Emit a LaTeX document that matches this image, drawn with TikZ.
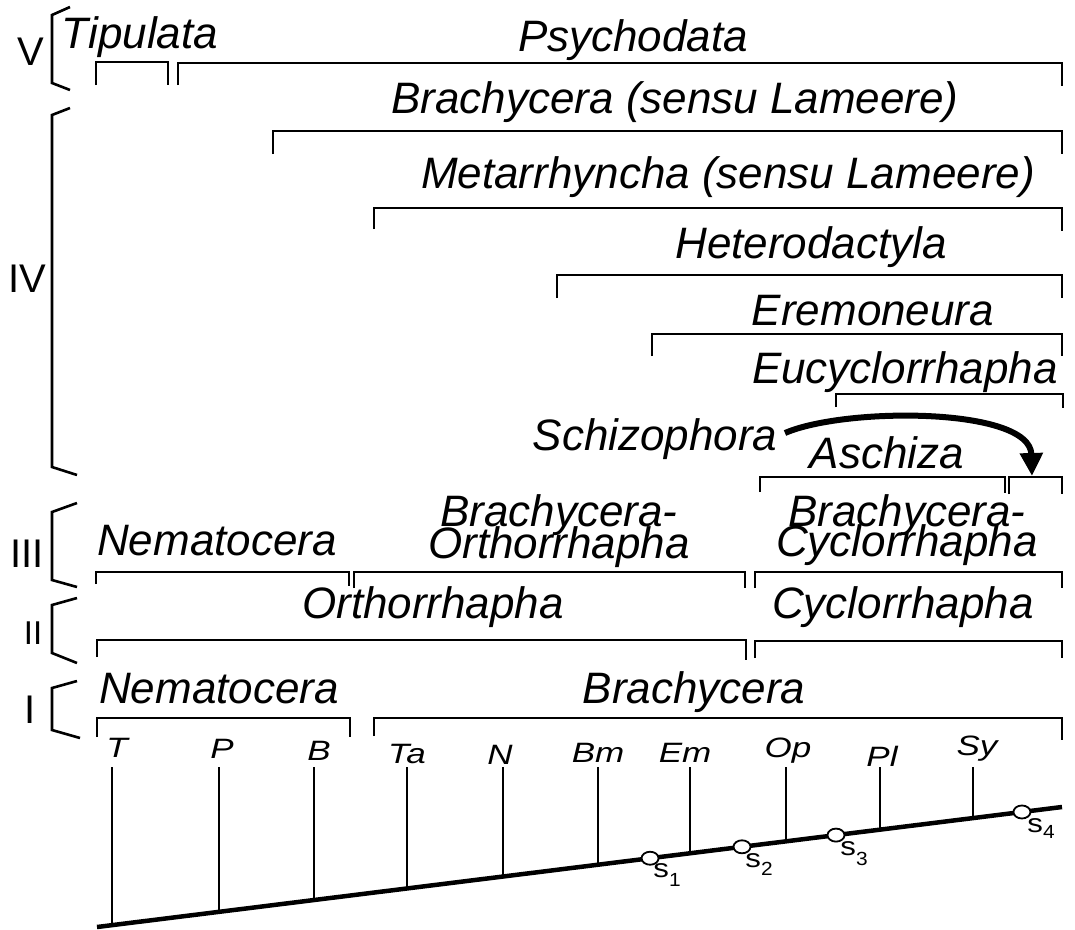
\documentclass[tikz,border=0pt]{standalone}
\usepackage{fontspec}
\setmainfont{Liberation Sans}
\usetikzlibrary{arrows.meta,shapes.geometric}
\begin{document}
\begin{tikzpicture}[x=1pt,y=-1pt,
 lab/.style={font=\fontsize{44}{46}\selectfont\itshape, anchor=base, inner sep=0pt},
 two/.style={font=\fontsize{44}{30}\selectfont\itshape, anchor=north, inner sep=0pt, align=center},
 lvl/.style={font=\fontsize{40}{44}\selectfont, anchor=base, inner sep=0pt},
 tax/.style={font=\fontsize{28}{30}\selectfont\itshape, anchor=base, inner sep=0pt, xscale=1.25},
 brk/.style={line width=2.6pt, line join=miter},
 stem/.style={line width=2.2pt},
 baseline/.style={line width=4.5pt},
 sp/.style={draw, fill=white, ellipse, line width=1.8pt, minimum width=17pt, minimum height=13pt, inner sep=0pt},
 slab/.style={anchor=base west, inner sep=0pt, font=\fontsize{26}{26}\selectfont, xscale=1.2},
 sub/.style={anchor=base west, inner sep=0pt, font=\fontsize{19}{19}\selectfont, xscale=1.1}
]
\useasboundingbox (0,0) rectangle (1075,929);

% ---- level labels and brackets
\node[lvl] (lV) at (31,65) {V};
\node[lvl] (lIV) at (27,292) {IV};
\node[lvl] (lIII) at (27,567) {III};
\node[lvl, font=\fontsize{33}{36}\selectfont] (lII) at (33,644) {II};
\node[lvl] (lI) at (30,723) {I};
\draw[brk] (70,7) -- (52,15) -- (52,83) -- (70,90);
\draw[brk] (70,108) -- (52,115) -- (52,467) -- (77,475);
\draw[brk] (77,503) -- (52,512) -- (52,580) -- (77,587);
\draw[brk] (77,598) -- (52,605) -- (52,653) -- (77,663);
\draw[brk] (77,681) -- (52,688) -- (52,730) -- (80,738);

% ---- level V
\node[lab] (tip) at (140,48) {Tipulata};
\node[lab] (psy) at (633,51) {Psychodata};
\draw[brk] (96,85) |- (168,62) -- (168,85);
\draw[brk] (178,85) |- (1062,63) -- (1062,86);

% ---- level IV
\node[lab] (bsl) at (675,113) {Brachycera (sensu Lameere)};
\draw[brk] (273,154) |- (1062,131) -- (1062,154);
\node[lab] (msl) at (728,188) {Metarrhyncha (sensu Lameere)};
\draw[brk] (374,229) |- (1062,208) -- (1062,231);
\node[lab] (het) at (811,258) {Heterodactyla};
\draw[brk] (557,298) |- (1062,275) -- (1062,298);
\node[lab] (ere) at (873,325) {Eremoneura};
\draw[brk] (652,356) |- (1062,334) -- (1062,356);
\node[lab] (euc) at (905,383) {Eucyclorrhapha};
\draw[brk] (836,407) |- (1063,394) -- (1063,408);
\node[lab] (sch) at (655,450) {Schizophora};
\node[lab] (asc) at (887,468) {Aschiza};
\draw[brk] (760,492) |- (1005,477) -- (1005,493);
\draw[brk] (1009,494) |- (1062,477) -- (1062,494);
\coordinate (arS) at (785,433);
\coordinate (arE) at (1032,476);
\draw[line width=6pt, -{Triangle[width=22pt,length=23pt]}] (arS) .. controls (845,407) and (1030,407) .. (arE);

% ---- level III
\node[lab] (nem3) at (217,555) {Nematocera};
\node[two] (bo) at (559,494) {Brachycera-\\[-10pt]Orthorrhapha};
\node[two] (bc) at (907,494) {Brachycera-\\[-12pt]Cyclorrhapha};
\draw[brk] (96,584) |- (349,572) -- (349,586);
\draw[brk] (354,588) |- (745,572) -- (745,588);
\draw[brk] (755,588) |- (1062,572) -- (1062,588);

% ---- level II
\node[lab] (orth) at (433,618) {Orthorrhapha};
\node[lab] (cyc) at (903,618) {Cyclorrhapha};
\draw[brk] (97,657) |- (746,640) -- (746,660);
\draw[brk] (755,658) |- (1062,641) -- (1062,658);

% ---- level I
\node[lab] (nem1) at (219,703) {Nematocera};
\node[lab] (bra1) at (694,703) {Brachycera};
\draw[brk] (97,737) |- (350,718) -- (350,737);
\draw[brk] (374,736) |- (1062,718) -- (1062,740);

% ---- tree
\coordinate (b0) at (97,927);
\coordinate (b1) at (1062,807);
\coordinate (top) at (0,767);
\path (b0) -- (b1)
  coordinate[pos=0.0155] (xT)
  coordinate[pos=0.1264] (xP)
  coordinate[pos=0.2249] (xB)
  coordinate[pos=0.3212] (xTa)
  coordinate[pos=0.4207] (xN)
  coordinate[pos=0.5192] (xBm)
  coordinate[pos=0.6145] (xEm)
  coordinate[pos=0.7140] (xOp)
  coordinate[pos=0.8114] (xPl)
  coordinate[pos=0.9078] (xSy)
  coordinate[pos=0.5731] (xs1)
  coordinate[pos=0.6684] (xs2)
  coordinate[pos=0.7658] (xs3)
  coordinate[pos=0.9585] (xs4);

\node[tax] (tT) at (117,757) {T};
\node[tax] (tP) at (222,758) {P};
\node[tax] (tB) at (319,760) {B};
\node[tax] (tTa) at (407,763) {Ta};
\node[tax] (tN) at (500,764) {N};
\node[tax] (tBm) at (598,762) {Bm};
\node[tax] (tEm) at (685,762) {Em};
\node[tax] (tOp) at (788,757) {Op};
\node[tax] (tPl) at (882,766) {Pl};
\node[tax] (tSy) at (977,755) {Sy};

\foreach \n in {T,P,B,Ta,N,Bm,Em,Op,Pl,Sy}
  \draw[stem] (x\n) -- (x\n |- top);

\draw[baseline] (b0) -- (b1);

\node[sp] (c1) at (xs1) {};
\node[sp] (c2) at (xs2) {};
\node[sp] (c3) at (xs3) {};
\node[sp] (c4) at (xs4) {};

\node[slab] (s1) at (653,877) {s};
\node[sub] (s1n) at (669,886) {1};
\node[slab] (s2) at (745,867) {s};
\node[sub] (s2n) at (761,875) {2};
\node[slab] (s3) at (840,855) {s};
\node[sub] (s3n) at (856,865) {3};
\node[slab] (s4) at (1027,832) {s};
\node[sub] (s4n) at (1043,838) {4};
\end{tikzpicture}
\end{document}
